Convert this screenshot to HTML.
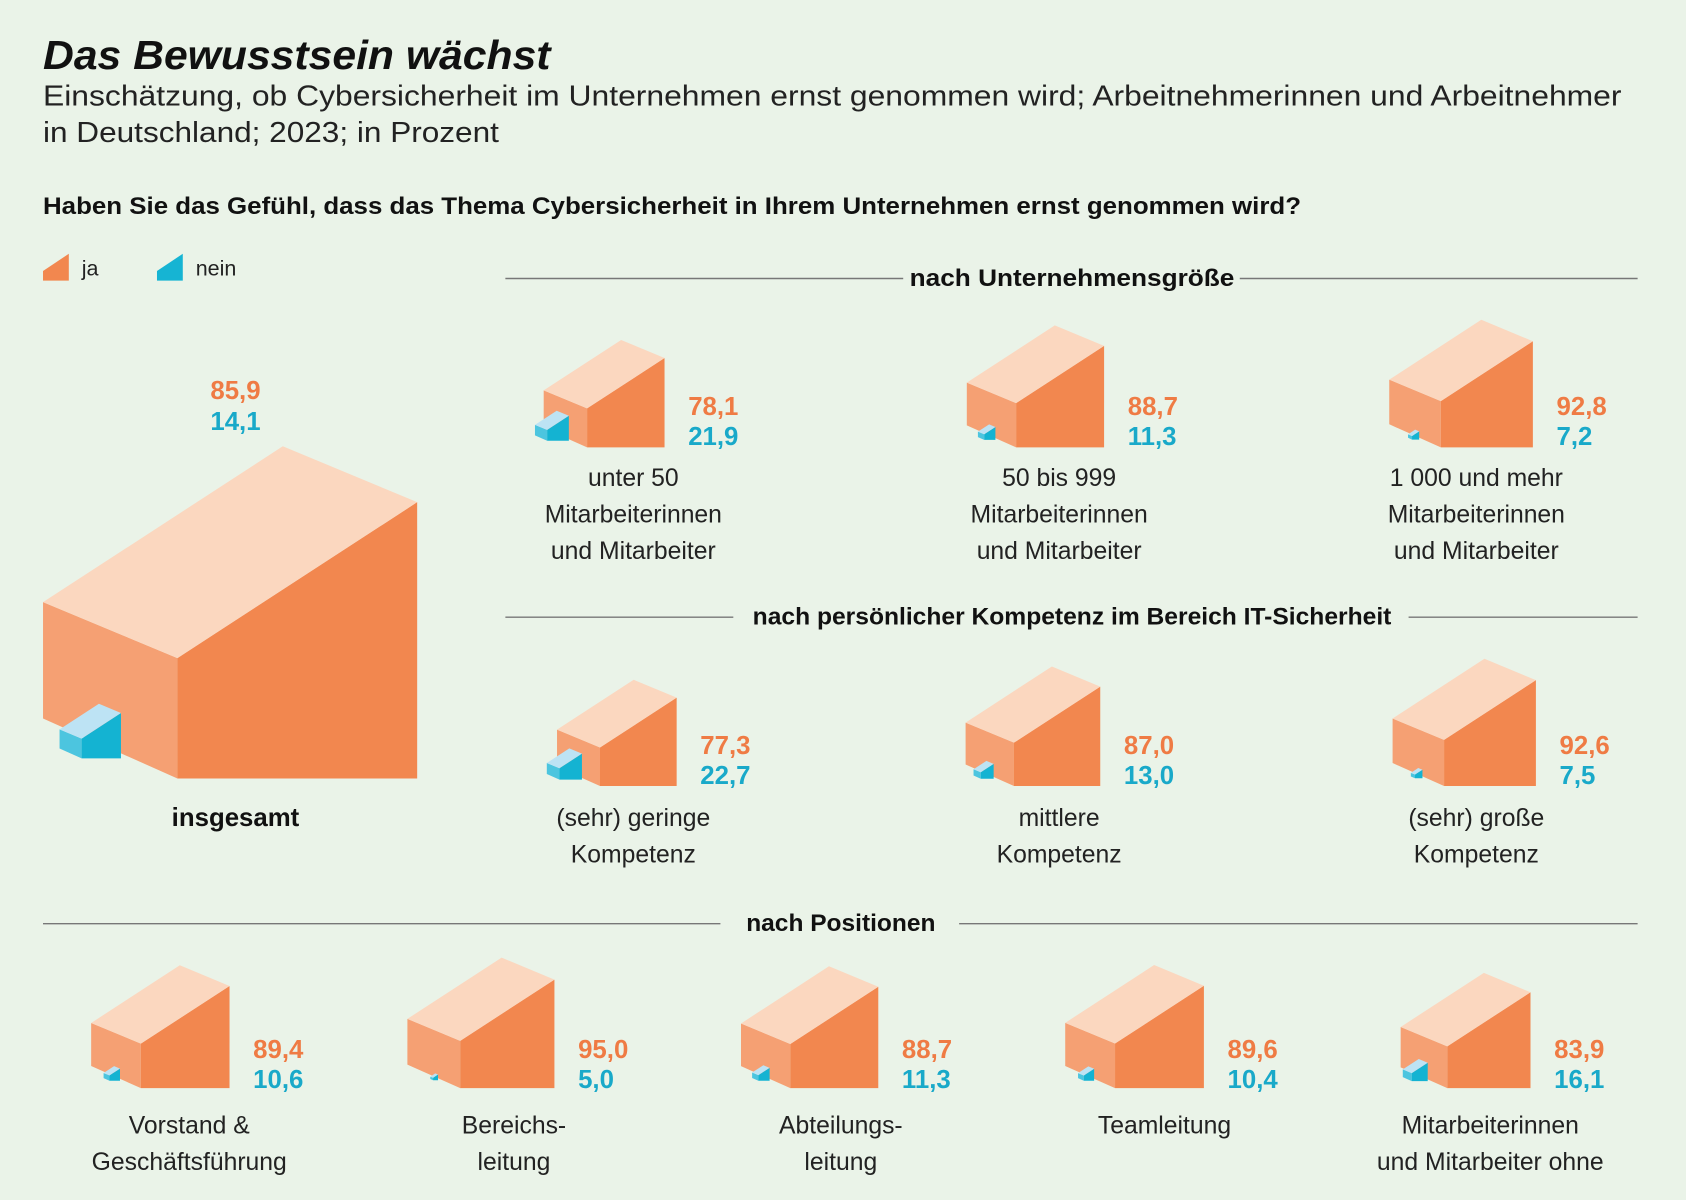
<!DOCTYPE html>
<html><head><meta charset="utf-8"><style>
html,body{margin:0;padding:0;background:#eaf3e8;}
svg{display:block;font-family:"Liberation Sans",sans-serif;}
</style></head><body>
<svg id="chart" width="1686" height="1200" viewBox="0 0 1568 1116" xmlns="http://www.w3.org/2000/svg">
<rect width="1568" height="1116" fill="#eaf3e8"/>
<text x="40" y="64" font-size="38" font-weight="bold" font-style="italic" fill="#111" textLength="472" lengthAdjust="spacingAndGlyphs">Das Bewusstsein wächst</text>
<text x="40" y="98" font-size="27" fill="#222" textLength="1468" lengthAdjust="spacingAndGlyphs">Einschätzung, ob Cybersicherheit im Unternehmen ernst genommen wird; Arbeitnehmerinnen und Arbeitnehmer</text>
<text x="40" y="132" font-size="27" fill="#222" textLength="424" lengthAdjust="spacingAndGlyphs">in Deutschland; 2023; in Prozent</text>
<text x="40" y="199" font-size="22" font-weight="bold" fill="#111" textLength="1170" lengthAdjust="spacingAndGlyphs">Haben Sie das Gefühl, dass das Thema Cybersicherheit in Ihrem Unternehmen ernst genommen wird?</text>
<g>
<polygon points="40,261 64,261 64,236 40,252" fill="#f2874f"/>
<text x="76" y="256" font-size="20" fill="#222">ja</text>
<polygon points="146,261 170,261 170,236 146,252" fill="#16b4d3"/>
<text x="182" y="256" font-size="20" fill="#222">nein</text>
</g>
<g stroke="#777" stroke-width="1.3">
<line x1="470" y1="259" x2="840" y2="259"/><line x1="1153" y1="259" x2="1523" y2="259"/>
<line x1="470" y1="574" x2="682" y2="574"/><line x1="1310" y1="574" x2="1523" y2="574"/>
<line x1="40" y1="859" x2="670" y2="859"/><line x1="892" y1="859" x2="1523" y2="859"/>
</g>
<text x="997" y="266" font-size="22" font-weight="bold" text-anchor="middle" fill="#111" textLength="302" lengthAdjust="spacingAndGlyphs">nach Unternehmensgröße</text>
<text x="997" y="581" font-size="22" font-weight="bold" text-anchor="middle" fill="#111" textLength="594" lengthAdjust="spacingAndGlyphs">nach persönlicher Kompetenz im Bereich IT-Sicherheit</text>
<text x="782" y="866" font-size="22" font-weight="bold" text-anchor="middle" fill="#111" textLength="176" lengthAdjust="spacingAndGlyphs">nach Positionen</text>
<g id="marks"></g>
</svg>
<script>
const categories = ["insgesamt","unter 50|Mitarbeiterinnen|und Mitarbeiter","50 bis 999|Mitarbeiterinnen|und Mitarbeiter","1 000 und mehr|Mitarbeiterinnen|und Mitarbeiter","(sehr) geringe|Kompetenz","mittlere|Kompetenz","(sehr) große|Kompetenz","Vorstand &|Geschäftsführung","Bereichs-|leitung","Abteilungs-|leitung","Teamleitung","Mitarbeiterinnen|und Mitarbeiter ohne"];
const jaValues = [85.9,78.1,88.7,92.8,77.3,87.0,92.6,89.4,95.0,88.7,89.6,83.9];
const neinValues = [14.1,21.9,11.3,7.2,22.7,13.0,7.5,10.6,5.0,11.3,10.4,16.1];
const jaLabels = ["85,9","78,1","88,7","92,8","77,3","87,0","92,6","89,4","95,0","88,7","89,6","83,9"];
const neinLabels = ["14,1","21,9","11,3","7,2","22,7","13,0","7,5","10,6","5,0","11,3","10,4","16,1"];

const NS="http://www.w3.org/2000/svg";
const g=document.getElementById('marks');
// layout anchors (front corner x, bottom y, scale, label center x)
const anchorsX=[165,546,945,1340,558,943,1343,131,428,735,1037,1346];
const anchorsB=[724,416,416,416,731,731,731,1012,1012,1012,1012,1012];
const labelCX=[219,589,985,1373,589,985,1373,176,478,782,1083,1386];
const scaleK=i=>i===0?1.455:0.517;
const D=1.784,H=0.896,SL=0.416,SR=1.16;
function el(tag,attrs){const e=document.createElementNS(NS,tag);for(const k in attrs)e.setAttribute(k,attrs[k]);return e;}
function box(F,B,w,cols,name){
  const L=F-w,R=F+D*w,yF=B-H*w,yL=yF-SL*w,yR=yF-SR*w,Tx=L+D*w,Ty=yL-SR*w;
  const grp=el('g',{});
  
  
  const p=(pts,c,n)=>{const q=el('polygon',{points:pts.map(a=>a.join(',')).join(' '),fill:c});
    
    
    grp.appendChild(q);};
  p([[L,yL],[F,yF],[F,B],[L,B-SL*w-0.03*w]],cols[1],name+'-left-face');
  p([[F,yF],[R,yR],[R,B],[F,B]],cols[0],name+'-right-face');
  p([[L,yL],[Tx,Ty],[R,yR],[F,yF]],cols[2],name+'-top-face');
  g.appendChild(grp);
  return {L,R,Ty};
}
function txt(x,y,s,attrs,name){const t=el('text',Object.assign({x,y,'font-size':24},attrs));t.textContent=s;
  
  
  g.appendChild(t);return t;}
for(let i=0;i<jaValues.length;i++){
  const k=scaleK(i),w=k*jaValues[i],wn=k*neinValues[i];
  const F=anchorsX[i],B=anchorsB[i];
  const b=box(F,B,w,['#f2874f','#f5a073','#fbd7bf'],'ja-box-'+i);
  const rx=b.L+0.58*w,by=B-0.15*w;
  box(rx-D*wn,by,wn,['#14b3d2','#4cc5df','#bde3f4'],'nein-box-'+i);
  const lines=categories[i].split('|');
  const rowY = i===0?768:(i<4?452:(i<7?768:1054));
  if(i===0){
    txt(labelCX[i],Math.min(b.Ty,B)-44,jaLabels[i],{'text-anchor':'middle','font-weight':'bold',fill:'#ef7b44'},'value-ja-'+i);
    txt(labelCX[i],Math.min(b.Ty,B)-15,neinLabels[i],{'text-anchor':'middle','font-weight':'bold',fill:'#19a9c9'},'value-nein-'+i);
    txt(labelCX[i],rowY,lines[0],{'text-anchor':'middle','font-weight':'bold',fill:'#111'},'category-label-'+i);
  } else {
    const off = i>=7?-28:-30;
    txt(b.R+22,B+off,jaLabels[i],{'font-weight':'bold',fill:'#ef7b44'},'value-ja-'+i);
    txt(b.R+22,B+off+28,neinLabels[i],{'font-weight':'bold',fill:'#19a9c9'},'value-nein-'+i);
    lines.forEach((s,j)=>txt(labelCX[i],rowY+j*34,s,{'text-anchor':'middle',fill:'#222','font-size':23},'category-label-'+i+'-line-'+j));
  }
}
</script>
</body></html>
